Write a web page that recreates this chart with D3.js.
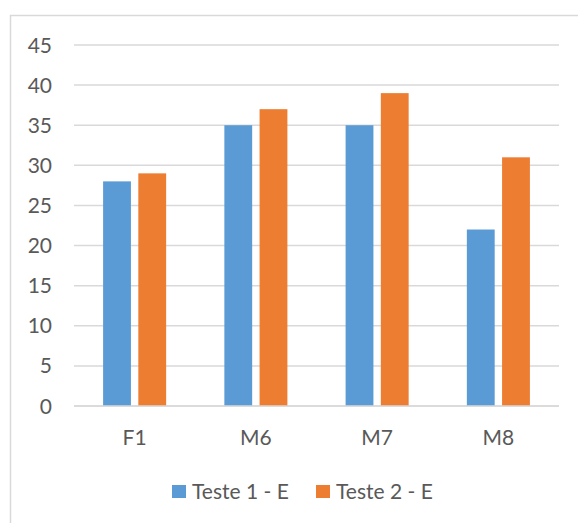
<!DOCTYPE html>
<html>
<head>
<meta charset="utf-8">
<script src="https://cdn.jsdelivr.net/npm/d3@7"></script>
<style>
  body { margin: 0; background: #fff; }
  svg { display: block; font-family: Lato, "Open Sans", sans-serif; }
</style>
</head>
<body>
<div id="chart"></div>
<script>
// chart data
const categories = ["F1", "M6", "M7", "M8"];
const seriesNames = ["Teste 1 - E", "Teste 2 - E"];
const teste1 = [28, 35, 35, 22];
const teste2 = [29, 37, 39, 31];
const yTicks = [0, 5, 10, 15, 20, 25, 30, 35, 40, 45];
const colors = ["#5b9bd5", "#ed7d31"];

const width = 578, height = 523;
const margin = { top: 45, right: 19, bottom: 117, left: 74 };
const plotW = width - margin.left - margin.right;
const plotH = height - margin.top - margin.bottom;
const fontSize = "21px";

const svg = d3.select("#chart")
    .append("svg")
    .attr("width", width)
    .attr("height", height);

// outer frame
svg.append("rect")
    .attr("x", 10.5)
    .attr("y", 15.5)
    .attr("width", width + 10)
    .attr("height", height)
    .attr("fill", "none")
    .attr("stroke", "#d9d9d9")
    .attr("stroke-width", 1.5);

const g = svg.append("g")
    .attr("transform", `translate(${margin.left}, ${margin.top})`);

const x = d3.scaleBand()
    .domain(categories)
    .range([0, plotW]);

const x1 = d3.scaleBand()
    .domain(seriesNames)
    .range([0, x.bandwidth() * 0.52])
    .paddingInner(0.21);

const y = d3.scaleLinear()
    .domain([0, 45])
    .range([plotH, 0]);

// gridlines
g.append("g")
    .selectAll("line")
    .data(yTicks)
    .enter()
    .append("line")
    .attr("x1", 0)
    .attr("x2", plotW)
    .attr("y1", d => y(d))
    .attr("y2", d => y(d))
    .attr("stroke", "#d9d9d9")
    .attr("stroke-width", 1.5);

// y tick labels
g.append("g")
    .selectAll("text")
    .data(yTicks)
    .enter()
    .append("text")
    .attr("x", -22)
    .attr("y", d => y(d))
    .attr("dy", "0.36em")
    .attr("text-anchor", "end")
    .attr("fill", "#595959")
    .style("font-size", fontSize)
    .text(d => d);

// bars
const rows = categories.map((c, i) => ({ cat: c, vals: [teste1[i], teste2[i]] }));
const groups = g.selectAll(".grp")
    .data(rows)
    .enter()
    .append("g")
    .attr("class", "grp")
    .attr("transform", d => `translate(${x(d.cat) + x.bandwidth() * 0.24}, 0)`);

groups.selectAll("rect")
    .data(d => d.vals.map((v, j) => ({ name: seriesNames[j], value: v, j })))
    .enter()
    .append("rect")
    .attr("x", d => x1(d.name))
    .attr("y", d => y(d.value))
    .attr("width", x1.bandwidth())
    .attr("height", d => plotH - y(d.value))
    .attr("fill", d => colors[d.j]);

// redraw baseline over bars
g.append("line")
    .attr("x1", 0)
    .attr("x2", plotW)
    .attr("y1", y(0))
    .attr("y2", y(0))
    .attr("stroke", "#d9d9d9")
    .attr("stroke-width", 1.5);

// category labels
g.append("g")
    .selectAll("text")
    .data(categories)
    .enter()
    .append("text")
    .attr("x", d => x(d) + x.bandwidth() / 2)
    .attr("y", plotH + 31)
    .attr("dy", "0.36em")
    .attr("text-anchor", "middle")
    .attr("fill", "#595959")
    .style("font-size", fontSize)
    .text(d => d);

// legend
const legend = svg.append("g");
const legendX = [172, 316];
seriesNames.forEach((name, i) => {
    legend.append("rect")
        .attr("x", legendX[i])
        .attr("y", 485)
        .attr("width", 14)
        .attr("height", 13)
        .attr("fill", colors[i]);
    legend.append("text")
        .attr("x", legendX[i] + 20)
        .attr("y", 491.5)
        .attr("dy", "0.36em")
        .attr("fill", "#595959")
        .style("font-size", fontSize)
        .text(name);
});
</script>
</body>
</html>
